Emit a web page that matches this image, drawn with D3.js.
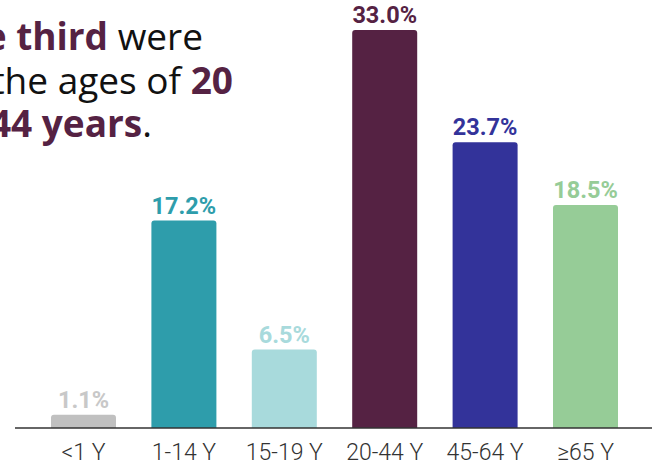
<!DOCTYPE html>
<html><head><meta charset="utf-8">
<script src="https://cdn.jsdelivr.net/npm/d3@7"></script>
<style>
html,body{margin:0;padding:0;background:#fff;}
svg{display:block;}
</style></head>
<body>
<svg id="chart" width="658" height="463"></svg>
<script>
const categories = ["<1 Y", "1-14 Y", "15-19 Y", "20-44 Y", "45-64 Y", "≥65 Y"];
const values = [1.1, 17.2, 6.5, 33.0, 23.7, 18.5];
const barColors = ["#c0c0c0", "#2e9dab", "#a8dadc", "#552243", "#33339a", "#96cc97"];
const labelColors = ["#c8c8c8", "#2e9dab", "#a8dadc", "#552243", "#33339a", "#96cc97"];
const titleLines = [
  [{t:"More than ", b:false}, {t:"one third", b:true}, {t:" were", b:false}],
  [{t:"between the ages of ", b:false}, {t:"20", b:true}],
  [{t:"and 44 years", b:true}, {t:".", b:false}]
];

const svg = d3.select("#chart");
const x = d3.scaleBand().domain(categories).range([33.3, 635.7]).paddingInner(0.3526).paddingOuter(0.1763);
const y = d3.scaleLinear().domain([0, d3.max(values)]).range([428, 30]);

const r = 3;
function barPath(x0, w, yTop, yBot) {
  return `M${x0},${yBot}V${yTop + r}Q${x0},${yTop} ${x0 + r},${yTop}H${x0 + w - r}Q${x0 + w},${yTop} ${x0 + w},${yTop + r}V${yBot}Z`;
}

svg.selectAll("path.bar").data(values).join("path")
  .attr("class", "bar")
  .attr("d", (d, i) => barPath(x(categories[i]), x.bandwidth(), y(d), y(0)))
  .attr("fill", (d, i) => barColors[i]);

svg.selectAll("text.val").data(values).join("text")
  .attr("class", "val")
  .attr("x", (d, i) => x(categories[i]) + x.bandwidth() / 2)
  .attr("y", d => y(d) - 7)
  .attr("text-anchor", "middle")
  .attr("font-family", "Roboto, sans-serif")
  .attr("font-weight", 700)
  .attr("font-size", 23.5)
  .attr("fill", (d, i) => labelColors[i])
  .text(d => d.toFixed(1) + "%");

// baseline
svg.append("line")
  .attr("x1", 15).attr("x2", 652)
  .attr("y1", y(0)).attr("y2", y(0))
  .attr("stroke", "#333").attr("stroke-width", 1.5);

const axis = svg.append("g")
  .attr("transform", `translate(0,${y(0)})`)
  .call(d3.axisBottom(x).tickSize(0).tickPadding(0));
axis.select(".domain").remove();
axis.selectAll("text")
  .attr("y", 32).attr("dy", 0)
  .attr("font-family", "Roboto, sans-serif")
  .attr("font-weight", 300)
  .attr("font-size", 23)
  .attr("fill", "#333");

// title (clipped on the left)
const rightEdges = [203, 233, 152];
const baselines = [50, 94, 137];
titleLines.forEach((line, li) => {
  const t = svg.append("text")
    .attr("x", rightEdges[li]).attr("y", baselines[li])
    .attr("text-anchor", "end")
    .attr("font-family", "'Open Sans', sans-serif")
    .attr("font-size", 37)
    .attr("fill", "#111");
  line.forEach(seg => {
    t.append("tspan").text(seg.t)
      .attr("font-weight", seg.b ? 700 : 400)
      .attr("fill", seg.b ? "#552243" : "#111");
  });
});
</script>
</body></html>
